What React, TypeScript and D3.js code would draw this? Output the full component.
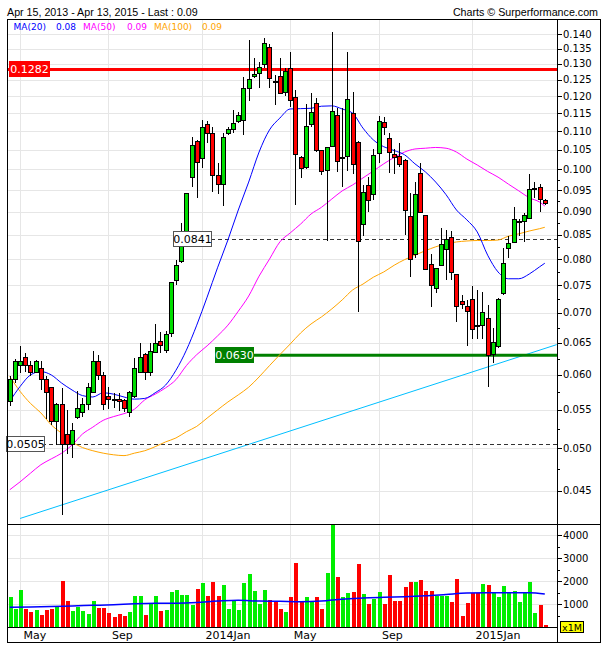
import React from "react";
import * as d3 from "d3";

// Weekly candles, first week starting Mon 22 Apr 2013
const firstWeek = new Date(2013, 3, 22);
const opens = [0.0562,0.0593,0.0615,0.0627,0.0615,0.0604,0.0609,0.0593,0.0581,0.0534,0.0557,0.0517,0.0505,0.0540,0.0546,0.0557,0.0575,0.0620,0.0599,0.0568,0.0565,0.0564,0.0563,0.0546,0.0569,0.0604,0.0632,0.0604,0.0634,0.0652,0.0637,0.0665,0.0758,0.0795,0.0847,0.0981,0.1073,0.1028,0.1117,0.1094,0.0986,0.0962,0.1092,0.1103,0.1125,0.1128,0.1223,0.1259,0.1270,0.1299,0.1355,0.1243,0.1259,0.1210,0.1286,0.1196,0.1031,0.1005,0.1117,0.1177,0.1048,0.0997,0.1058,0.1142,0.1029,0.1033,0.1150,0.1070,0.0871,0.0960,0.0940,0.1041,0.1124,0.1080,0.1037,0.1033,0.1023,0.0889,0.0810,0.0989,0.0891,0.0789,0.0744,0.0787,0.0819,0.0845,0.0771,0.0721,0.0711,0.0724,0.0679,0.0678,0.0690,0.0631,0.0644,0.0734,0.0822,0.0834,0.0877,0.0878,0.0885,0.0951,0.0956,0.0925];
const highs = [0.0598,0.0624,0.0645,0.0634,0.0621,0.0623,0.0621,0.0598,0.0582,0.0559,0.0581,0.0550,0.0533,0.0576,0.0567,0.0588,0.0637,0.0630,0.0605,0.0582,0.0574,0.0574,0.0565,0.0576,0.0626,0.0649,0.0634,0.0649,0.0681,0.0668,0.0670,0.0756,0.0798,0.0876,0.0944,0.1085,0.1075,0.1131,0.1128,0.1112,0.1015,0.1096,0.1112,0.1159,0.1152,0.1257,0.1379,0.1320,0.1305,0.1387,0.1365,0.1265,0.1318,0.1285,0.1340,0.1218,0.1033,0.1176,0.1210,0.1194,0.1050,0.1058,0.1408,0.1165,0.1165,0.1340,0.1213,0.1072,0.0962,0.0982,0.1053,0.1142,0.1140,0.1096,0.1053,0.1069,0.1025,0.0943,0.0970,0.1015,0.0893,0.0811,0.0783,0.0864,0.0860,0.0857,0.0772,0.0732,0.0723,0.0749,0.0741,0.0738,0.0714,0.0675,0.0726,0.0822,0.0847,0.0910,0.0883,0.0897,0.0988,0.0970,0.0964,0.0929];
const lows = [0.0556,0.0588,0.0603,0.0605,0.0598,0.0603,0.0578,0.0538,0.0530,0.0504,0.0424,0.0493,0.0488,0.0538,0.0540,0.0550,0.0573,0.0593,0.0550,0.0551,0.0552,0.0549,0.0547,0.0541,0.0567,0.0603,0.0593,0.0598,0.0633,0.0633,0.0634,0.0659,0.0750,0.0792,0.0825,0.0958,0.0931,0.1003,0.1067,0.0946,0.0941,0.0912,0.1089,0.1094,0.1121,0.1089,0.1185,0.1254,0.1223,0.1286,0.1223,0.1174,0.1206,0.1200,0.1169,0.0915,0.0979,0.1001,0.1112,0.1045,0.0986,0.0836,0.1056,0.0994,0.0958,0.0997,0.0989,0.0702,0.0848,0.0900,0.0927,0.1015,0.1090,0.0990,0.0989,0.1005,0.0849,0.0766,0.0802,0.0897,0.0778,0.0711,0.0735,0.0786,0.0760,0.0760,0.0685,0.0707,0.0644,0.0656,0.0656,0.0656,0.0583,0.0618,0.0642,0.0731,0.0802,0.0832,0.0848,0.0834,0.0883,0.0931,0.0900,0.0916];
const closes = [0.0593,0.0621,0.0621,0.0615,0.0604,0.0621,0.0593,0.0575,0.0534,0.0557,0.0505,0.0505,0.0522,0.0552,0.0557,0.0581,0.0620,0.0599,0.0557,0.0565,0.0563,0.0562,0.0552,0.0575,0.0609,0.0627,0.0604,0.0636,0.0649,0.0645,0.0664,0.0755,0.0788,0.0848,0.0941,0.1060,0.1018,0.1110,0.1094,0.0986,0.0964,0.1083,0.1103,0.1121,0.1144,0.1223,0.1249,0.1267,0.1289,0.1368,0.1252,0.1241,0.1208,0.1277,0.1188,0.1038,0.1001,0.1112,0.1152,0.1048,0.0996,0.1056,0.1155,0.1021,0.1031,0.1190,0.1011,0.0836,0.0945,0.0925,0.1036,0.1127,0.1110,0.1042,0.1030,0.1011,0.0903,0.0799,0.0940,0.0898,0.0780,0.0749,0.0782,0.0830,0.0841,0.0773,0.0711,0.0715,0.0703,0.0671,0.0677,0.0701,0.0630,0.0651,0.0724,0.0792,0.0832,0.0883,0.0879,0.0891,0.0952,0.0953,0.0928,0.0919];
const volumes = [1317,796,1622,796,665,752,535,752,796,926,2013,1143,709,897,709,578,1143,839,839,622,448,578,491,665,1360,1360,535,1043,1360,709,752,1535,1622,1404,1404,970,1665,1926,1360,1970,1360,1839,796,1143,752,1926,2317,1578,1013,1622,1187,1100,796,665,1317,2816,1100,1300,1150,1300,800,2350,4500,2180,1300,1470,1520,2750,1430,1030,1250,1520,1030,2270,1160,1160,1740,1960,1960,2050,1600,1570,1340,1340,1340,1110,2090,480,1040,1500,1500,1880,1820,1500,1300,1790,1520,1570,1120,1500,1960,620,980,90];

const maIndex = [0,2,4,6,8,10,12,14,16,18,20,22,24,26,28,30,32,34,36,38,40,42,44,46,48,50,52,54,56,58,60,62,64,66,68,70,72,74,76,78,80,82,84,86,88,90,92,94,96,98,100,102,103];
const ma20 = [0.0562,0.0583,0.0600,0.0605,0.0600,0.0588,0.0578,0.0570,0.0568,0.0574,0.0572,0.0568,0.0565,0.0566,0.0574,0.0585,0.0607,0.0638,0.0679,0.0728,0.0783,0.0839,0.0904,0.0969,0.1044,0.1103,0.1136,0.1162,0.1163,0.1164,0.1170,0.1171,0.1162,0.1150,0.1108,0.1076,0.1058,0.1048,0.1037,0.1014,0.0994,0.0969,0.0939,0.0904,0.0882,0.0856,0.0808,0.0775,0.0762,0.0762,0.0771,0.0785,0.0792];
const ma50 = [0.0451,0.0460,0.0470,0.0480,0.0487,0.0494,0.0504,0.0518,0.0527,0.0536,0.0541,0.0545,0.0551,0.0564,0.0572,0.0581,0.0593,0.0614,0.0631,0.0645,0.0661,0.0679,0.0703,0.0730,0.0767,0.0800,0.0835,0.0854,0.0873,0.0895,0.0910,0.0929,0.0948,0.0962,0.0979,0.0996,0.1014,0.1030,0.1044,0.1052,0.1054,0.1056,0.1054,0.1044,0.1026,0.1011,0.0995,0.0981,0.0964,0.0948,0.0932,0.0922,0.0913];
const ma100 = [0.0598,0.0576,0.0559,0.0546,0.0530,0.0519,0.0508,0.0501,0.0497,0.0494,0.0492,0.0491,0.0494,0.0497,0.0502,0.0508,0.0513,0.0521,0.0528,0.0539,0.0550,0.0561,0.0571,0.0582,0.0597,0.0614,0.0631,0.0648,0.0666,0.0681,0.0693,0.0707,0.0723,0.0741,0.0752,0.0765,0.0775,0.0788,0.0799,0.0808,0.0817,0.0825,0.0831,0.0835,0.0837,0.0838,0.0838,0.0839,0.0847,0.0852,0.0858,0.0863,0.0866];
const volMaIndex = [0,4,8,12,16,20,24,28,32,36,40,44,48,52,56,60,64,68,72,76,80,84,88,92,96,100,103];
const volMa = [870,880,900,930,955,980,1020,1045,1050,1080,1140,1180,1140,1130,1115,1140,1220,1270,1310,1330,1370,1430,1490,1500,1500,1500,1450];

const priceTicks = [0.045,0.05,0.055,0.06,0.065,0.07,0.075,0.08,0.085,0.09,0.095,0.1,0.105,0.11,0.115,0.12,0.125,0.13,0.135,0.14];
const priceMinorTicks = [0.0475,0.0525,0.0575,0.0625,0.0675,0.0725,0.0775,0.0825,0.0875,0.0925,0.0975];
const volumeTicks = [1000,2000,3000,4000];
const volumeMinorTicks = [500,1500,2500,3500];

const resistance = 0.1282;
const pivot = 0.0841;
const support = 0.063;
const lowLevel = 0.0505;
const trendIndex = [2, 105.3];
const trendValue = [0.042, 0.0647];

const legendNames = ["MA(20)", "MA(50)", "MA(100)"];
const legendValues = ["0.08", "0.09", "0.09"];

const FONT = "'DejaVu Sans', Verdana, sans-serif";

export default function App() {
  const W = 605, H = 650;
  const L = 7, R = 557, FR = 600, T = 19, PB = 524, VB = 627, B = 642;
  const n = opens.length;
  const x = d3.scaleLinear().domain([0, n - 1]).range([9.7, 544.8]);
  const y = d3.scaleLog().domain([0.045, 0.14]).range([490.7, 34]);
  const v = d3.scaleLinear().domain([0, 4000]).range([627.3, 535.3]);

  const dates = d3.range(n).map((i) => d3.timeDay.offset(firstWeek, 7 * i));
  const monthMarks = d3.range(1, n).filter(
    (i) => dates[i].getMonth() !== dates[i - 1].getMonth() && dates[i].getMonth() % 4 === 0
  );
  const monthLabel = (d: Date) =>
    d.getMonth() === 0 ? `${d.getFullYear()}Jan` : d3.timeFormat("%b")(d);

  const maLine = (vals: number[]) =>
    d3.line<number>().x((_, k) => x(maIndex[k])).y((d) => y(d)).curve(d3.curveMonotoneX)(vals) || "";
  const volLine =
    d3.line<number>().x((_, k) => x(volMaIndex[k])).y((d) => v(d)).curve(d3.curveMonotoneX)(volMa) || "";

  const green = "#00dd00";
  const red = "#ff0000";

  const box = (val: number, bx: number, w: number, fill: string, stroke: string, color: string) => (
    <g>
      <rect x={bx + 0.5} y={Math.round(y(val)) - 7.5} width={w} height={15} fill={fill} stroke={stroke} />
      <text x={bx + 0.5 + w / 2} y={y(val) + 4} textAnchor="middle" fontSize={11} fontFamily={FONT} fill={color}>
        {d3.format(".4f")(val)}
      </text>
    </g>
  );

  return (
    <svg width={W} height={H} style={{ position: "absolute", left: 0, top: 0, background: "#fff" }}>
      <defs>
        <clipPath id="pclip"><rect x={L} y={T} width={R - L} height={PB - T} /></clipPath>
        <clipPath id="vclip"><rect x={L} y={PB} width={R - L} height={VB - PB} /></clipPath>
      </defs>
      <rect x={0} y={0} width={W} height={H} fill="#fff" />
      {/* header */}
      <text x={7} y={16} fontSize={10.7} fontFamily="'Liberation Sans', Arial, sans-serif" fill="#000">
        Apr 15, 2013 - Apr 13, 2015 - Last : 0.09
      </text>
      <text x={598} y={16} textAnchor="end" fontSize={10.7} fontFamily="'Liberation Sans', Arial, sans-serif" fill="#000">
        Charts © Surperformance.com
      </text>

      {/* grid */}
      <g stroke="#e6e6e6" strokeWidth={1} shapeRendering="crispEdges">
        {priceTicks.map((t) => (
          <line key={"pg" + t} x1={L} x2={R} y1={Math.round(y(t)) + 0.5} y2={Math.round(y(t)) + 0.5} />
        ))}
        {volumeTicks.map((t) => (
          <line key={"vg" + t} x1={L} x2={R} y1={Math.round(v(t)) + 0.5} y2={Math.round(v(t)) + 0.5} />
        ))}
        {monthMarks.map((i) => (
          <line key={"mg" + i} x1={Math.round(x(i)) + 0.5} x2={Math.round(x(i)) + 0.5} y1={T} y2={VB} />
        ))}
      </g>

      {/* legend */}
      <g fontSize={9} fontFamily={FONT}>
        <text x={13.6} y={30} fill="#0000ff">{legendNames[0]}</text>
        <text x={56} y={30} fill="#0000ff">{legendValues[0]}</text>
        <text x={83} y={30} fill="#ff00ff">{legendNames[1]}</text>
        <text x={127} y={30} fill="#ff00ff">{legendValues[1]}</text>
        <text x={154} y={30} fill="#ffa500">{legendNames[2]}</text>
        <text x={202} y={30} fill="#ffa500">{legendValues[2]}</text>
      </g>

      <g clipPath="url(#pclip)">
        {/* trend line */}
        <line x1={x(trendIndex[0])} y1={y(trendValue[0])} x2={x(trendIndex[1])} y2={y(trendValue[1])} stroke="#00bfff" strokeWidth={1} />
        {/* levels */}
        <line x1={L} x2={R} y1={y(resistance)} y2={y(resistance)} stroke={red} strokeWidth={3} />
        <line x1={211} x2={R} y1={Math.round(y(pivot)) + 0.5} y2={Math.round(y(pivot)) + 0.5} stroke="#333" strokeDasharray="4,3" />
        <line x1={L} x2={R} y1={Math.round(y(lowLevel)) + 0.5} y2={Math.round(y(lowLevel)) + 0.5} stroke="#333" strokeDasharray="4,3" />
        <line x1={252} x2={R} y1={y(support)} y2={y(support)} stroke="#008000" strokeWidth={3} />
        {/* moving averages */}
        <path d={maLine(ma100)} fill="none" stroke="#ffa500" strokeWidth={1} />
        <path d={maLine(ma50)} fill="none" stroke="#ff00ff" strokeWidth={1} />
        <path d={maLine(ma20)} fill="none" stroke="#0000ff" strokeWidth={1} />
        {/* candles */}
        <g shapeRendering="crispEdges">
          {opens.map((o, i) => {
            const c = closes[i];
            const cx = Math.round(x(i));
            const top = y(Math.max(o, c));
            const bot = y(Math.min(o, c));
            const up = c >= o;
            return (
              <g key={"c" + i}>
                <line x1={cx + 0.5} x2={cx + 0.5} y1={y(highs[i])} y2={y(lows[i])} stroke="#000" strokeWidth={1} />
                <rect x={cx - 1.5} y={top} width={4} height={Math.max(bot - top, 1)} fill={up ? green : red} stroke="#000" strokeWidth={1} />
              </g>
            );
          })}
        </g>
      </g>

      {/* level label boxes */}
      {box(resistance, 9, 40, red, red, "#fff")}
      {box(pivot, 173, 38, "#fff", "#555", "#000")}
      {box(support, 215, 38, "#008000", "#008000", "#fff")}
      {box(lowLevel, 6, 38, "#fff", "#555", "#000")}

      {/* volume */}
      <g clipPath="url(#vclip)" shapeRendering="crispEdges">
        {volumes.map((vol, i) => {
          const cx = Math.round(x(i));
          return (
            <rect key={"v" + i} x={cx - 1.5} y={v(vol)} width={4} height={v(0) - v(vol)}
              fill={closes[i] >= opens[i] ? "#00ee00" : "#ff0000"} />
          );
        })}
      </g>
      <g clipPath="url(#vclip)">
        <path d={volLine} fill="none" stroke="#0000ff" strokeWidth={1.5} />
      </g>

      {/* frame */}
      <g stroke="#000" strokeWidth={1} fill="none" shapeRendering="crispEdges">
        <rect x={L + 0.5} y={T + 0.5} width={FR - L} height={B - T} />
        <line x1={L} x2={FR} y1={PB + 0.5} y2={PB + 0.5} />
        <line x1={L} x2={R} y1={VB + 0.5} y2={VB + 0.5} />
        <line x1={R + 0.5} x2={R + 0.5} y1={T} y2={B} />
      </g>

      {/* price axis */}
      <g fontSize={10} fontFamily={FONT} fill="#000">
        {priceTicks.map((t) => (
          <g key={"pt" + t}>
            <line x1={R} x2={R + 5} y1={Math.round(y(t)) + 0.5} y2={Math.round(y(t)) + 0.5} stroke="#000" shapeRendering="crispEdges" />
            <text x={563} y={y(t) + 3.5}>{d3.format(".3f")(t)}</text>
          </g>
        ))}
        {priceMinorTicks.map((t) => (
          <line key={"pm" + t} x1={R} x2={R + 3} y1={Math.round(y(t)) + 0.5} y2={Math.round(y(t)) + 0.5} stroke="#000" shapeRendering="crispEdges" />
        ))}
      </g>

      {/* volume axis */}
      <g fontSize={10} fontFamily={FONT} fill="#000">
        {volumeTicks.map((t) => (
          <g key={"vt" + t}>
            <line x1={R} x2={R + 5} y1={Math.round(v(t)) + 0.5} y2={Math.round(v(t)) + 0.5} stroke="#000" shapeRendering="crispEdges" />
            <text x={563} y={v(t) + 3.5}>{t}</text>
          </g>
        ))}
        {volumeMinorTicks.map((t) => (
          <line key={"vm" + t} x1={R} x2={R + 3} y1={Math.round(v(t)) + 0.5} y2={Math.round(v(t)) + 0.5} stroke="#000" shapeRendering="crispEdges" />
        ))}
        <rect x={560.5} y={621.5} width={23} height={11} fill="#ffff00" stroke="#000" />
        <text x={572} y={630.5} textAnchor="middle" fontSize={9.5}>x1M</text>
      </g>

      {/* month labels */}
      <g fontSize={11} fontFamily={FONT} fill="#000">
        {monthMarks.map((i) => (
          <text key={"ml" + i} x={x(i) + 3.5} y={639}>{monthLabel(dates[i])}</text>
        ))}
      </g>
    </svg>
  );
}
